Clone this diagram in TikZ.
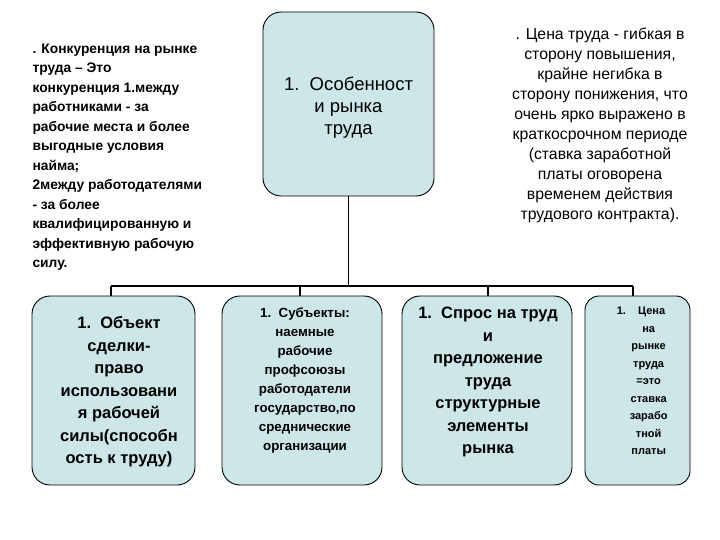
\documentclass[tikz,border=0pt]{standalone}
\usepackage{fontspec}
\setmainfont{Liberation Sans}
\definecolor{boxfill}{HTML}{CDE6E8}
\begin{document}
\begin{tikzpicture}[x=1pt,y=-1pt,
  bx/.style={draw=black,line width=0.9pt,fill=boxfill,rounded corners=18pt},
  ln/.style={line width=1.2pt}]
\useasboundingbox (0,0) rectangle (720,540);
\fill[white] (0,0) rectangle (720,540);
\draw[bx] (263,12) rectangle (434,196);
\node[align=center,font=\fontsize{18.5}{22}\selectfont] (top) at (348.5,108) {1.\ \ Особенност\\и рынка\\труда};
\node[anchor=north west,align=left,font=\bfseries\fontsize{13.8}{19.5}\selectfont] (lt) at (29,40) {. Конкуренция на рынке\\труда – Это\\конкуренция 1.между\\работниками - за\\рабочие места и более\\выгодные условия\\найма;\\2между работодателями\\- за более\\квалифицированную и\\эффективную рабочую\\силу.};
\node[anchor=north,align=center,font=\fontsize{15.8}{20}\selectfont] (rt) at (600,24) {. Цена труда - гибкая в\\сторону повышения,\\крайне негибка в\\сторону понижения, что\\очень ярко выражено в\\краткосрочном периоде\\(ставка заработной\\платы оговорена\\временем действия\\трудового контракта).};
\draw[bx] (32,296) rectangle (195,485);
\draw[bx] (222,296) rectangle (382,485);
\draw[bx] (402,296) rectangle (572,485);
\draw[bx,rounded corners=14pt] (585,296) rectangle (690,485);
\coordinate (t) at (348.5,196);
\coordinate (h) at (348.5,286);
\coordinate (b1) at (111,296); \coordinate (h1) at (111,286);
\coordinate (b2) at (300,296); \coordinate (h2) at (300,286);
\coordinate (b3) at (488,296); \coordinate (h3) at (488,286);
\coordinate (b4) at (633,296); \coordinate (h4) at (633,286);
\draw[ln] (t) -- (h);
\draw[ln] (h1) -- (h4);
\draw[ln] (h1) -- (b1); \draw[ln] (h2) -- (b2); \draw[ln] (h3) -- (b3); \draw[ln] (h4) -- (b4);
\node[align=center,font=\bfseries\fontsize{16.5}{22.5}\selectfont] (n1) at (119,392) {1.\ \ Объект\\сделки-\\право\\использовани\\я рабочей\\силы(способн\\ость к труду)};
\node[align=center,font=\bfseries\fontsize{13.3}{19}\selectfont] (n2) at (305,380) {1.\ \ Субъекты:\\наемные\\рабочие\\профсоюзы\\работодатели\\государство,по\\среднические\\организации};
\node[align=center,font=\bfseries\fontsize{16.5}{22.5}\selectfont] (n3) at (488,382) {1.\ \ Спрос на труд\\и\\предложение\\труда\\структурные\\элементы\\рынка};
\node[align=center,font=\bfseries\fontsize{11}{17.5}\selectfont] (n4) at (641,381) {1.\ \ \ \ Цена\\\ \ \ \ \ на\\\ \ \ \ \ рынке\\\ \ \ \ \ труда\\\ \ \ \ \ =это\\\ \ \ \ \ ставка\\\ \ \ \ \ зарабо\\\ \ \ \ \ тной\\\ \ \ \ \ платы};
\end{tikzpicture}
\end{document}
